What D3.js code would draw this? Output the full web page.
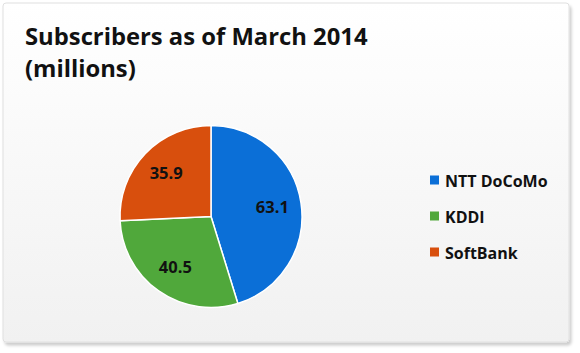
<!DOCTYPE html>
<html>
<head>
<meta charset="utf-8">
<script src="https://cdn.jsdelivr.net/npm/d3@7"></script>
<style>
  body { margin: 0; background: #fff; }
  svg { display: block; }
  text { font-family: "Open Sans", "Noto Sans", sans-serif; font-weight: bold; fill: #111; }
</style>
</head>
<body>
<svg id="chart" width="580" height="353"></svg>
<script>
/**
 * Data.
 */
const carriers = ['NTT DoCoMo', 'KDDI', 'SoftBank'],
    subscribers = [63.1, 40.5, 35.9],
    sliceColors = ['#0b6fd7', '#50a83b', '#d84f0d'],
    titleLines = ['Subscribers as of March 2014', '(millions)'];

/**
 * Visual configs.
 */
const width = 580, height = 353,
    card = { x: 3, y: 3, w: 566, h: 339 },
    pieCenter = { x: 211, y: 216.5 },
    radius = 91,
    labelRadius = 62,
    legend = { x: 430, y: 181, step: 36, box: 9 };

const svg = d3.select('#chart');
const defs = svg.append('defs');

// Card background gradient and shadow
const grad = defs.append('linearGradient').attr('id', 'cardFill')
    .attr('x1', 0).attr('y1', 0).attr('x2', 0).attr('y2', 1);
grad.append('stop').attr('offset', '0%').attr('stop-color', '#ffffff');
grad.append('stop').attr('offset', '100%').attr('stop-color', '#f1f1f1');

const shadow = defs.append('filter').attr('id', 'shadow')
    .attr('x', '-5%').attr('y', '-5%').attr('width', '110%').attr('height', '110%');
shadow.append('feDropShadow').attr('dx', 2).attr('dy', 3).attr('stdDeviation', 1.5)
    .attr('flood-color', '#000').attr('flood-opacity', 0.2);

svg.append('rect')
    .attr('x', card.x).attr('y', card.y)
    .attr('width', card.w).attr('height', card.h)
    .attr('rx', 3)
    .attr('fill', 'url(#cardFill)')
    .attr('stroke', '#e0e0e0').attr('stroke-width', 1)
    .attr('filter', 'url(#shadow)');

// Title
svg.append('g').selectAll('text').data(titleLines).join('text')
    .attr('x', 25)
    .attr('y', (d, i) => 45 + i * 32)
    .style('font-size', '23.8px')
    .text(d => d);

/**
 * Pie.
 */
const pie = d3.pie().sort(null).value(d => d)(subscribers);
const arc = d3.arc().innerRadius(0).outerRadius(radius);
const labelArc = d3.arc().innerRadius(labelRadius).outerRadius(labelRadius);

const pieG = svg.append('g').attr('transform', `translate(${pieCenter.x},${pieCenter.y})`);

pieG.selectAll('path').data(pie).join('path')
    .attr('d', arc)
    .attr('fill', (d, i) => sliceColors[i])
    .attr('stroke', '#fff')
    .attr('stroke-width', 1.5)
    .attr('stroke-linejoin', 'round');

pieG.selectAll('text').data(pie).join('text')
    .attr('transform', d => `translate(${labelArc.centroid(d)})`)
    .attr('text-anchor', 'middle')
    .attr('dy', '0.35em')
    .style('font-size', '16.5px')
    .text(d => d.data.toFixed(1));

/**
 * Legend.
 */
const legendG = svg.append('g');
const rows = legendG.selectAll('g').data(carriers).join('g')
    .attr('transform', (d, i) => `translate(${legend.x},${legend.y + i * legend.step})`);

rows.append('rect')
    .attr('x', 0).attr('y', -legend.box / 2 - 1)
    .attr('width', legend.box).attr('height', legend.box)
    .attr('fill', (d, i) => sliceColors[i]);

rows.append('text')
    .attr('x', 15)
    .attr('dy', '0.36em')
    .style('font-size', '16px')
    .text(d => d);
</script>
</body>
</html>
